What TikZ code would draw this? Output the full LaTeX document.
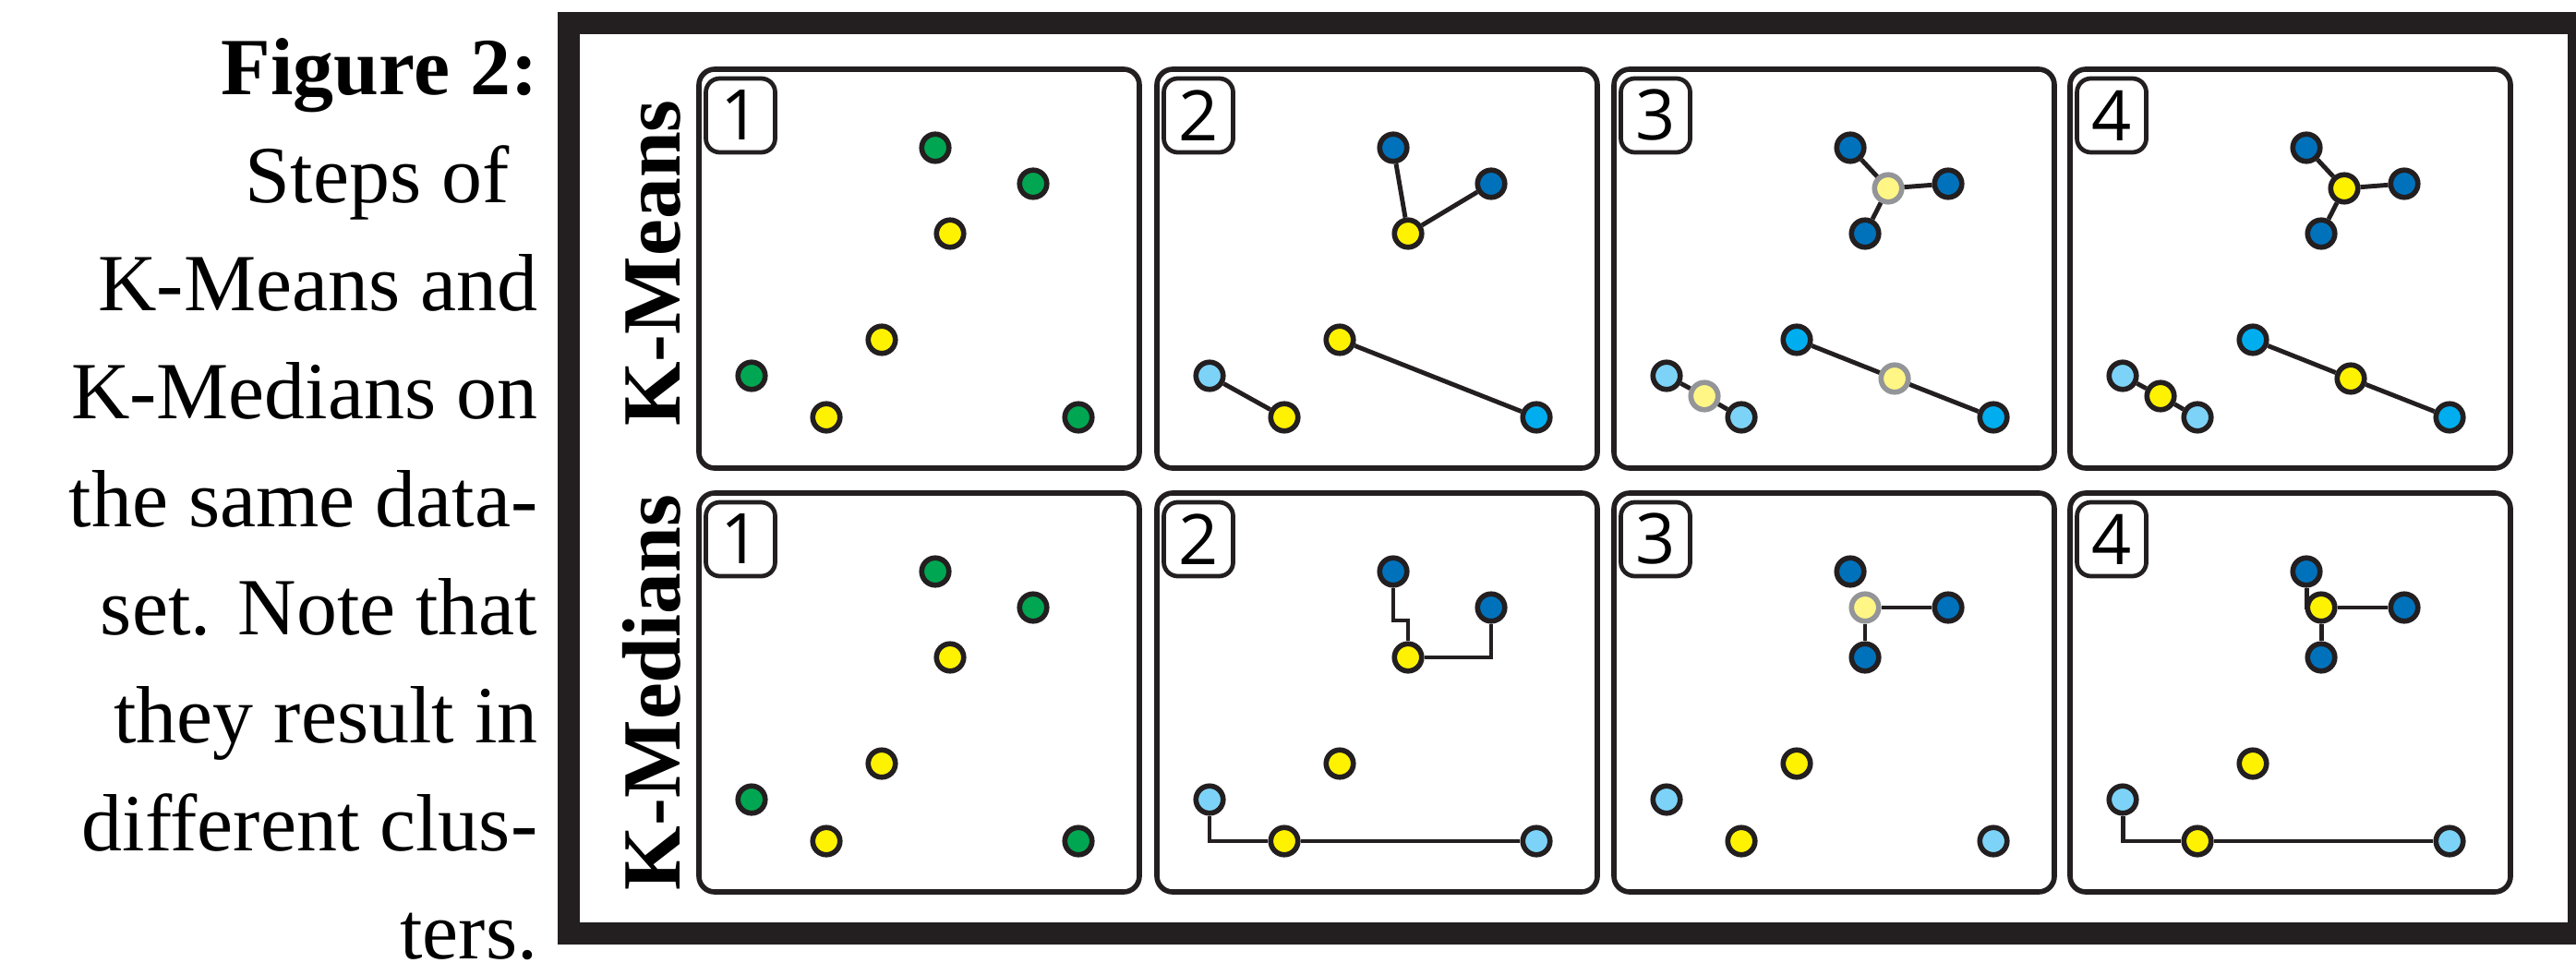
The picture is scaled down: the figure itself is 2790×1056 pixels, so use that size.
\documentclass[tikz,border=0pt]{standalone}
\usepackage{fontspec}
\setmainfont{Liberation Serif}
\newfontfamily\digitfont{Open Sans}
\usepackage{tikz}
\usetikzlibrary{positioning}
\usepackage{xcolor}
\definecolor{ink}{HTML}{231F20}
\definecolor{ptGreen}{HTML}{00A651}
\definecolor{ptYellow}{HTML}{FFF200}
\definecolor{ptPale}{HTML}{FFF685}
\definecolor{ptNavy}{HTML}{0072BC}
\definecolor{ptCyan}{HTML}{00AEEF}
\definecolor{ptSky}{HTML}{7DD3F7}
\definecolor{ptGrey}{HTML}{939598}

\begin{document}
\begin{tikzpicture}[x=0.1mm, y=-0.1mm,
    caption/.style={align=right, inner sep=0pt, font=\fontsize{25}{33.3}\selectfont},
    rowlabel/.style={rotate=90, anchor=base, inner sep=0pt, font=\fontsize{25.5}{26}\selectfont\bfseries},
    panel/.style={draw=ink, line width=1.6pt, rounded corners=1.7mm},
    numbox/.style={draw=ink, line width=1.35pt, rounded corners=1.5mm, minimum width=7.5mm,
                   minimum height=8mm, inner sep=0pt, font=\digitfont\fontsize{21.5}{22}\selectfont},
    pt/.style={circle, draw=ink, line width=1.6pt, minimum size=2.95mm, inner sep=0pt},
    gpt/.style={pt, fill=ptGreen},
    ypt/.style={pt, fill=ptYellow},
    npt/.style={pt, fill=ptNavy},
    cpt/.style={pt, fill=ptCyan},
    spt/.style={pt, fill=ptSky},
    ppt/.style={pt, fill=ptPale, draw=ptGrey},
    link/.style={draw=ink, line width=1.4pt},
]
    \useasboundingbox (0,0) rectangle (2790,1056);
    % caption and frame
    \node[caption, anchor=north east] (cap) at (583,41)
        {\textbf{Figure 2:}\\Steps of\kern0.35em\\K-Means and\\K-Medians on\\the same data-\\set.  Note that\\they result in\\different clus-\\ters.};
    \draw[ink, line width=2.4mm] (616,25) rectangle (2793,1011);
    \node[rowlabel] (lblmeans) at (736,285) {K-Means};
    \node[rowlabel] (lblmedians) at (736,750) {K-Medians};

    % the eight panels
    \foreach \x [count=\c] in {755,1251,1746,2240}
      \foreach \y/\r in {73/mn,532/md} {
        \draw[panel] (\x+2,\y+2) rectangle (\x+479,\y+434);
        \node[numbox] (num-\r\c) at (\x+47,\y+52) {\c};
      }

    % K-Means
    \begin{scope}[shift={(755,73)}]
        \node[gpt] (mn1a) at (258,87) {};
        \node[gpt] (mn1b) at (364,126) {};
        \node[ypt] (mn1c) at (274,180) {};
        \node[ypt] (mn1d) at (200,295) {};
        \node[gpt] (mn1e) at (59,334) {};
        \node[ypt] (mn1f) at (140,379) {};
        \node[gpt] (mn1g) at (413,379) {};
    \end{scope}
    \begin{scope}[shift={(1251,73)}]
        \node[npt] (mn2a) at (258,87) {};
        \node[npt] (mn2b) at (364,126) {};
        \node[ypt] (mn2c) at (274,180) {};
        \node[ypt] (mn2d) at (200,295) {};
        \node[spt] (mn2e) at (59,334) {};
        \node[ypt] (mn2f) at (140,379) {};
        \node[cpt] (mn2g) at (413,379) {};
        \draw[link] (mn2c) -- (mn2a);
        \draw[link] (mn2c) -- (mn2b);
        \draw[link] (mn2d) -- (mn2g);
        \draw[link] (mn2e) -- (mn2f);
    \end{scope}
    \begin{scope}[shift={(1746,73)}]
        \node[npt] (mn3a) at (258,87) {};
        \node[npt] (mn3b) at (364,126) {};
        \node[npt] (mn3c) at (274,180) {};
        \node[cpt] (mn3d) at (200,295) {};
        \node[spt] (mn3e) at (59,334) {};
        \node[spt] (mn3f) at (140,379) {};
        \node[cpt] (mn3g) at (413,379) {};
        \node[ppt] (mn3p) at (299,131) {};
        \node[ppt] (mn3q) at (306,337) {};
        \node[ppt] (mn3r) at (100,356) {};
        \draw[link] (mn3p) -- (mn3a);
        \draw[link] (mn3p) -- (mn3b);
        \draw[link] (mn3p) -- (mn3c);
        \draw[link] (mn3q) -- (mn3d);
        \draw[link] (mn3q) -- (mn3g);
        \draw[link] (mn3r) -- (mn3e);
        \draw[link] (mn3r) -- (mn3f);
    \end{scope}
    \begin{scope}[shift={(2240,73)}]
        \node[npt] (mn4a) at (258,87) {};
        \node[npt] (mn4b) at (364,126) {};
        \node[npt] (mn4c) at (274,180) {};
        \node[cpt] (mn4d) at (200,295) {};
        \node[spt] (mn4e) at (59,334) {};
        \node[spt] (mn4f) at (140,379) {};
        \node[cpt] (mn4g) at (413,379) {};
        \node[ypt] (mn4p) at (299,131) {};
        \node[ypt] (mn4q) at (306,337) {};
        \node[ypt] (mn4r) at (100,356) {};
        \draw[link] (mn4p) -- (mn4a);
        \draw[link] (mn4p) -- (mn4b);
        \draw[link] (mn4p) -- (mn4c);
        \draw[link] (mn4q) -- (mn4d);
        \draw[link] (mn4q) -- (mn4g);
        \draw[link] (mn4r) -- (mn4e);
        \draw[link] (mn4r) -- (mn4f);
    \end{scope}

    % K-Medians
    \begin{scope}[shift={(755,532)}]
        \node[gpt] (md1a) at (258,87) {};
        \node[gpt] (md1b) at (364,126) {};
        \node[ypt] (md1c) at (274,180) {};
        \node[ypt] (md1d) at (200,295) {};
        \node[gpt] (md1e) at (59,334) {};
        \node[ypt] (md1f) at (140,379) {};
        \node[gpt] (md1g) at (413,379) {};
    \end{scope}
    \begin{scope}[shift={(1251,532)}]
        \node[npt] (md2a) at (258,87) {};
        \node[npt] (md2b) at (364,126) {};
        \node[ypt] (md2c) at (274,180) {};
        \node[ypt] (md2d) at (200,295) {};
        \node[spt] (md2e) at (59,334) {};
        \node[ypt] (md2f) at (140,379) {};
        \node[spt] (md2g) at (413,379) {};
        \draw[link] (md2a) -- (md2a |- 0,140) -| (md2c);
        \draw[link] (md2c) -| (md2b);
        \draw[link] (md2e) |- (md2f);
        \draw[link] (md2f) -- (md2g);
    \end{scope}
    \begin{scope}[shift={(1746,532)}]
        \node[npt] (md3a) at (258,87) {};
        \node[npt] (md3b) at (364,126) {};
        \node[npt] (md3c) at (274,180) {};
        \node[ypt] (md3d) at (200,295) {};
        \node[spt] (md3e) at (59,334) {};
        \node[ypt] (md3f) at (140,379) {};
        \node[spt] (md3g) at (413,379) {};
        \node[ppt] (md3p) at (274,126) {};
        \draw[link] (md3p) -- (md3b);
        \draw[link] (md3p) -- (md3c);
    \end{scope}
    \begin{scope}[shift={(2240,532)}]
        \node[npt] (md4a) at (258,87) {};
        \node[npt] (md4b) at (364,126) {};
        \node[npt] (md4c) at (274,180) {};
        \node[ypt] (md4d) at (200,295) {};
        \node[spt] (md4e) at (59,334) {};
        \node[ypt] (md4f) at (140,379) {};
        \node[spt] (md4g) at (413,379) {};
        \node[ypt] (md4p) at (274,126) {};
        \draw[link] (md4a) |- (md4p);
        \draw[link] (md4p) -- (md4b);
        \draw[link] (md4p) -- (md4c);
        \draw[link] (md4e) |- (md4f);
        \draw[link] (md4f) -- (md4g);
    \end{scope}
\end{tikzpicture}
\end{document}
